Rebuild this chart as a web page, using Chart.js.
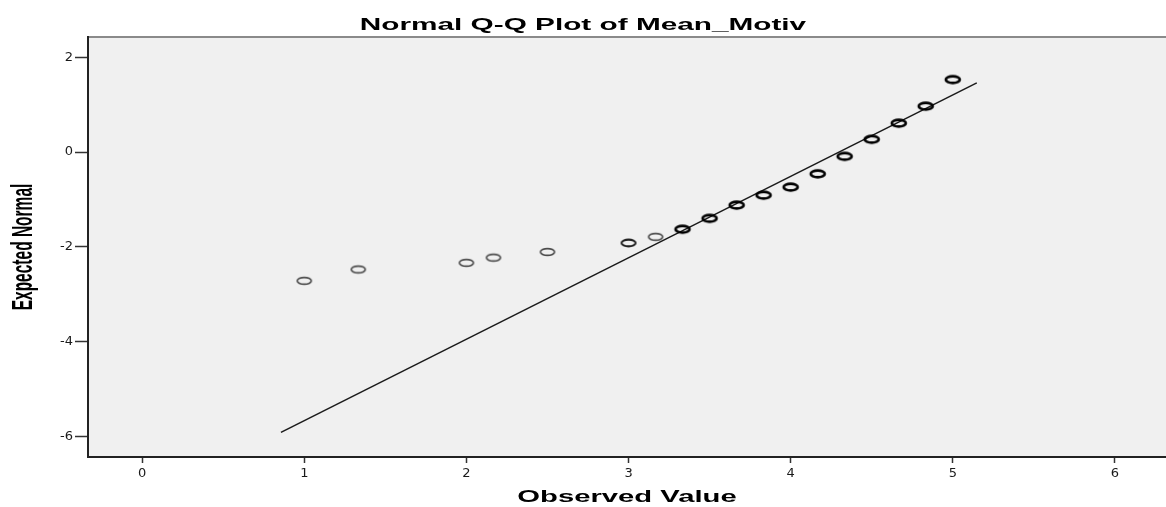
<!DOCTYPE html>
<html><head><meta charset="utf-8">
<script src="https://cdn.jsdelivr.net/npm/chart.js@4.4.1/dist/chart.umd.min.js"></script>
<style>html,body{margin:0;padding:0;background:#fff;overflow:hidden}#wrap{width:1166px;height:507px;position:relative}canvas{display:block}</style>
</head><body><div id="wrap"><canvas id="c"></canvas></div>
<script>
// ---- data ----
const chartTitle = 'Normal Q-Q Plot of Mean_Motiv';
const xAxisTitle = 'Observed Value';
const yAxisTitle = 'Expected Normal';
const observedValues = [1, 1.333, 2, 2.167, 2.5, 3, 3.167, 3.333, 3.5, 3.667, 3.833, 4, 4.167, 4.333, 4.5, 4.667, 4.833, 5];
const expectedNormal = [-2.72, -2.48, -2.34, -2.23, -2.11, -1.92, -1.79, -1.63, -1.40, -1.12, -0.91, -0.74, -0.46, -0.09, 0.27, 0.61, 0.97, 1.53];
const refLineX = [0.856, 5.148];
const refLineY = [-5.92, 1.46];
const xTickValues = [0, 1, 2, 3, 4, 5, 6];
const yTickValues = [-6, -4, -2, 0, 2];

// ---- marker images (ellipses) ----
function ellipseMarker(color, lw){
  const c = document.createElement('canvas');
  c.width = 20; c.height = 12;
  const g = c.getContext('2d');
  g.strokeStyle = color; g.lineWidth = lw;
  g.beginPath(); g.ellipse(10, 6, 7, 3.4, 0, 0, Math.PI*2); g.stroke();
  return c;
}
const lightMarker = ellipseMarker('#4d4d4d', 1.7);
const midMarker = ellipseMarker('#222222', 2.1);
const darkMarker = ellipseMarker('#000000', 2.7);

const points = observedValues.map((x, i) => ({x: x, y: expectedNormal[i]}));
const line = refLineX.map((x, i) => ({x: x, y: refLineY[i]}));

const bgPlugin = {
  id: 'bg',
  beforeDraw(chart){
    const ctx = chart.ctx, a = chart.chartArea;
    ctx.save();
    ctx.fillStyle = '#ffffff'; ctx.fillRect(0, 0, chart.width, chart.height);
    ctx.fillStyle = '#f0f0f0'; ctx.fillRect(a.left, a.top, a.right - a.left, a.bottom - a.top);
    ctx.strokeStyle = '#8a8a8a'; ctx.lineWidth = 2;
    ctx.beginPath(); ctx.moveTo(a.left, a.top); ctx.lineTo(a.right, a.top); ctx.stroke();
    ctx.restore();
  }
};

const textPlugin = {
  id: 'stretchedText',
  afterDraw(chart){
    const ctx = chart.ctx, a = chart.chartArea;
    ctx.save();
    ctx.fillStyle = '#000';
    ctx.textAlign = 'center'; ctx.textBaseline = 'alphabetic';
    ctx.font = 'bold 17px "Liberation Sans", Arial, sans-serif';
    ctx.save(); ctx.translate(chart.width / 2, 29.5); ctx.scale(1.75, 1); ctx.fillText(chartTitle, 0, 0); ctx.restore();
    ctx.save(); ctx.translate((a.left + a.right) / 2, 501.5); ctx.scale(1.72, 1); ctx.fillText(xAxisTitle, 0, 0); ctx.restore();
    ctx.font = 'bold 15.5px "Liberation Sans", Arial, sans-serif';
    ctx.save(); ctx.translate(32, (a.top + a.bottom) / 2); ctx.rotate(-Math.PI / 2); ctx.scale(1, 1.95); ctx.fillText(yAxisTitle, 0, 0); ctx.restore();
    ctx.restore();
  }
};

new Chart(document.getElementById('c'), {
  type: 'scatter',
  data: {
    datasets: [
      {
        label: 'Observed',
        data: points,
        pointStyle: ctx => {
          const v = ctx.raw ? ctx.raw.x : 0;
          if (v >= 3.3) return darkMarker;
          if (v > 2.9 && v < 3.1) return midMarker;
          return lightMarker;
        },
        pointRadius: 6,
        order: 1
      },
      {
        label: 'Line',
        type: 'line',
        data: line,
        showLine: true,
        borderColor: '#1a1a1a',
        borderWidth: 1.5,
        pointRadius: 0,
        fill: false,
        order: 2
      }
    ]
  },
  options: {
    responsive: true,
    maintainAspectRatio: false,
    animation: false,
    events: [],
    layout: { autoPadding: false, padding: { top: 37, left: 0, right: 0, bottom: 0 } },
    plugins: { legend: { display: false }, title: { display: false }, tooltip: { enabled: false } },
    scales: {
      x: {
        type: 'linear',
        min: -0.334, max: 6.315,
        afterBuildTicks: s => { s.ticks = xTickValues.map(v => ({value: v})); },
        afterFit: s => { s.height = 50; s.paddingRight = 0; s.paddingLeft = 0; },
        grid: { drawOnChartArea: false, drawTicks: true, tickLength: 6, tickColor: '#333', tickWidth: 1.5 },
        border: { display: true, color: '#222', width: 2 },
        ticks: { color: '#1a1a1a', padding: 3, font: { family: '"DejaVu Sans", sans-serif', size: 13 }, maxRotation: 0, autoSkip: false }
      },
      y: {
        type: 'linear',
        min: -6.44, max: 2.43,
        afterBuildTicks: s => { s.ticks = yTickValues.map(v => ({value: v})); },
        afterFit: s => { s.width = 88; },
        grid: { drawOnChartArea: false, drawTicks: true, tickLength: 13, tickColor: '#333', tickWidth: 1.5 },
        border: { display: true, color: '#222', width: 2 },
        ticks: { color: '#1a1a1a', padding: 2, font: { family: '"DejaVu Sans", sans-serif', size: 13 }, autoSkip: false }
      }
    }
  },
  plugins: [bgPlugin, textPlugin]
});
</script>
</body></html>
